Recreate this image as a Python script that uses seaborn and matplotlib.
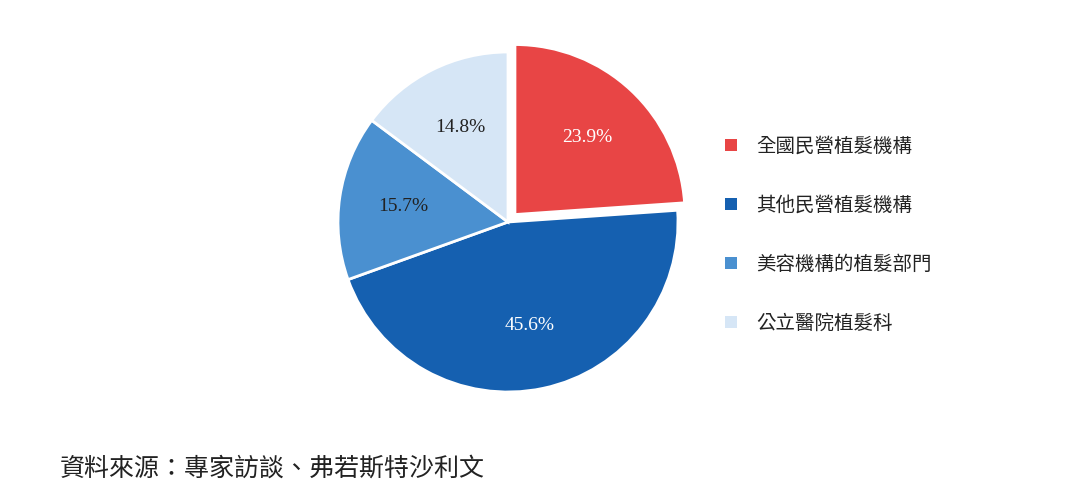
import matplotlib
matplotlib.use("Agg")
import matplotlib.pyplot as plt
import seaborn as sns
from matplotlib.patches import Patch

sns.set_theme(style="white")
plt.rcParams['font.family'] = ['Noto Sans CJK TC', 'DejaVu Sans']

categories = ["全國民營植髮機構", "其他民營植髮機構", "美容機構的植髮部門", "公立醫院植髮科"]
values = [23.9, 45.6, 15.7, 14.8]
colors = ["#E84545", "#1560B0", "#4A90D0", "#D6E6F6"]
text_colors = ["white", "white", "#222222", "#222222"]

fig = plt.figure(figsize=(10.8, 4.93), dpi=100)
h = 340 / 493
w = 340 / 1080
ax = fig.add_axes([508 / 1080 - w / 2, (493 - 222) / 493 - h / 2, w, h])
wedges, texts, autotexts = ax.pie(
    values, colors=colors, startangle=90, counterclock=False,
    explode=[0.06, 0, 0, 0], autopct="%.1f%%", pctdistance=0.62,
    wedgeprops=dict(edgecolor="white", linewidth=2, clip_on=False))
for t, c in zip(autotexts, text_colors):
    t.set_color(c)
    t.set_fontsize(14)
    t.set_family("Liberation Serif")
ax.set_xlim(-1, 1)
ax.set_ylim(-1, 1)
ax.set_aspect("equal")

handles = [Patch(facecolor=c, edgecolor="none") for c in colors]
fig.legend(handles, categories, loc="upper left", bbox_to_anchor=(0.655, 0.76),
           frameon=False, fontsize=14, labelspacing=1.95, handlelength=0.6,
           handleheight=0.6, handletextpad=1.0, labelcolor="#222222")

fig.text(0.055, 0.035, "資料來源：專家訪談、弗若斯特沙利文", fontsize=18,
         color="#222222")
fig.savefig("out.png", dpi=100)
